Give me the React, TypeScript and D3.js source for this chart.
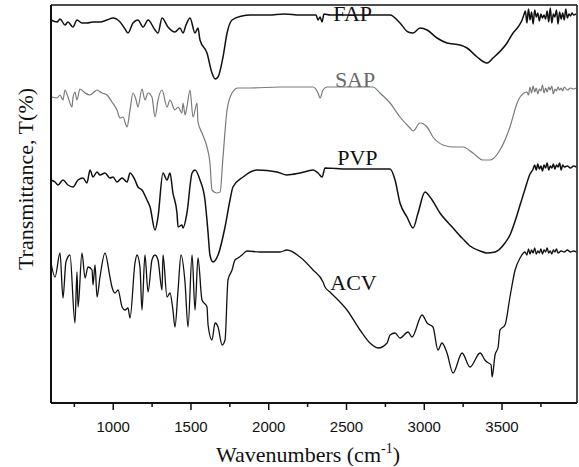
import React from "react";
import * as d3 from "d3";

const xMajorTicks = [1000, 1500, 2000, 2500, 3000, 3500];
const xMinorTicks = [750, 1250, 1750, 2250, 2750, 3250, 3750];
const seriesNames = ["FAP", "SAP", "PVP", "ACV"];

// [wavenumber (cm-1), offset transmittance (a.u.)]
const fap: [number, number][] = [
  [600, 383], [639, 381], [658, 384], [690, 378], [709, 381], [741, 376], [767, 383], [799, 380],
  [831, 380], [870, 381], [915, 381], [960, 383], [999, 385], [1044, 381], [1076, 374], [1095, 370],
  [1127, 380], [1159, 383], [1192, 376], [1224, 383], [1269, 373], [1288, 370], [1314, 385],
  [1352, 376], [1397, 371], [1429, 375], [1449, 370], [1468, 378], [1494, 385], [1526, 370],
  [1545, 375], [1558, 363], [1603, 350], [1635, 330], [1655, 324], [1674, 326], [1706, 346],
  [1732, 370], [1764, 383], [1828, 387], [1880, 388], [2000, 388], [2100, 389], [2201, 388],
  [2304, 388], [2317, 383], [2330, 386], [2343, 381], [2355, 389], [2394, 388], [2600, 388],
  [2780, 388], [2844, 380], [2896, 371], [2928, 370], [2973, 375], [3018, 373], [3082, 365],
  [3146, 360], [3230, 358], [3275, 355], [3340, 346], [3403, 340], [3442, 345], [3532, 360],
  [3571, 370], [3603, 376], [3629, 383], [3640, 388], [3650, 392], [3660, 380], [3670, 394],
  [3680, 383], [3690, 391], [3700, 379], [3710, 393], [3720, 386], [3730, 390], [3740, 382],
  [3750, 389], [3760, 385], [3770, 388], [3780, 384], [3790, 392], [3800, 381], [3810, 395],
  [3820, 380], [3830, 389], [3840, 386], [3850, 393], [3860, 379], [3870, 391], [3880, 384],
  [3890, 390], [3900, 383], [3910, 394], [3920, 385], [3930, 389], [3940, 387], [3950, 390],
  [3960, 388], [3975, 389],
];

const sap: [number, number][] = [
  [606, 306], [639, 305], [658, 308], [677, 303], [690, 313], [709, 306], [735, 296], [741, 305],
  [754, 311], [767, 303], [786, 314], [819, 310], [851, 308], [870, 310], [896, 313], [928, 310],
  [960, 308], [992, 301], [1024, 293], [1044, 285], [1063, 286], [1082, 278], [1089, 276],
  [1108, 293], [1127, 310], [1147, 303], [1159, 296], [1185, 314], [1204, 303], [1224, 310],
  [1249, 306], [1269, 286], [1288, 303], [1314, 313], [1346, 296], [1365, 303], [1397, 293],
  [1417, 296], [1442, 290], [1449, 300], [1462, 288], [1474, 296], [1494, 313], [1513, 286],
  [1539, 300], [1545, 281], [1571, 270], [1603, 256], [1622, 240], [1635, 213], [1667, 210],
  [1687, 211], [1706, 246], [1732, 293], [1764, 310], [1802, 315], [1880, 315], [2072, 316],
  [2285, 316], [2317, 310], [2330, 305], [2349, 313], [2375, 316], [2670, 316], [2715, 310],
  [2780, 300], [2844, 286], [2908, 275], [2928, 272], [2973, 280], [3018, 276], [3056, 266],
  [3121, 258], [3185, 256], [3249, 256], [3313, 250], [3378, 243], [3423, 243], [3487, 253],
  [3551, 276], [3597, 300], [3616, 306], [3661, 311], [3670, 308], [3680, 316], [3690, 310],
  [3700, 317], [3710, 311], [3720, 315], [3730, 309], [3740, 314], [3750, 312], [3760, 318],
  [3770, 310], [3780, 315], [3790, 311], [3800, 316], [3810, 313], [3820, 317], [3830, 309],
  [3840, 314], [3850, 312], [3860, 316], [3870, 313], [3880, 315], [3890, 312], [3900, 316],
  [3920, 313], [3940, 315], [3960, 314], [3978, 315],
];

const pvp: [number, number][] = [
  [600, 223], [626, 221], [645, 218], [677, 223], [709, 218], [741, 216], [774, 223], [806, 225],
  [831, 220], [851, 233], [870, 226], [896, 231], [915, 228], [947, 230], [979, 225], [999, 226],
  [1024, 221], [1057, 225], [1089, 221], [1108, 230], [1140, 223], [1159, 216], [1185, 213],
  [1217, 203], [1237, 196], [1269, 173], [1288, 186], [1320, 230], [1346, 223], [1365, 230],
  [1384, 210], [1410, 190], [1417, 176], [1442, 178], [1449, 175], [1474, 190], [1507, 230],
  [1526, 233], [1558, 223], [1590, 203], [1610, 170], [1622, 148], [1642, 141], [1674, 148],
  [1719, 176], [1751, 203], [1770, 216], [1835, 226], [1925, 233], [2053, 231], [2117, 228],
  [2201, 230], [2285, 233], [2317, 230], [2343, 226], [2362, 235], [2503, 234], [2780, 234],
  [2812, 223], [2844, 200], [2889, 186], [2928, 175], [2960, 190], [3005, 211], [3037, 206],
  [3101, 190], [3185, 175], [3243, 165], [3294, 157], [3359, 152], [3403, 150], [3455, 151],
  [3519, 160], [3551, 168], [3584, 182], [3616, 198], [3648, 214], [3680, 229], [3700, 234],
  [3710, 238], [3720, 233], [3730, 239], [3740, 234], [3750, 237], [3760, 232], [3770, 238],
  [3780, 235], [3790, 240], [3800, 233], [3810, 237], [3820, 235], [3830, 239], [3840, 234],
  [3850, 238], [3860, 236], [3870, 240], [3880, 233], [3890, 238], [3900, 236], [3920, 237],
  [3940, 235], [3960, 237], [3978, 236],
];

const acv: [number, number][] = [
  [600, 140], [626, 126], [658, 150], [677, 105], [696, 141], [722, 148], [754, 80], [767, 131],
  [774, 96], [799, 150], [819, 125], [838, 136], [864, 133], [870, 118], [883, 138], [896, 106],
  [915, 126], [947, 150], [979, 126], [992, 116], [1012, 110], [1031, 113], [1057, 96], [1076, 93],
  [1095, 95], [1108, 85], [1140, 140], [1153, 148], [1172, 136], [1185, 93], [1204, 148],
  [1224, 111], [1249, 143], [1269, 148], [1288, 143], [1314, 113], [1320, 148], [1346, 106],
  [1365, 110], [1384, 93], [1397, 76], [1417, 113], [1436, 148], [1462, 120], [1481, 76],
  [1507, 148], [1526, 93], [1545, 145], [1571, 103], [1603, 96], [1610, 78], [1635, 63],
  [1655, 80], [1674, 76], [1700, 58], [1719, 63], [1738, 123], [1764, 133], [1783, 143],
  [1802, 145], [1828, 148], [1860, 152], [1944, 151], [2072, 151], [2117, 153], [2201, 146],
  [2285, 133], [2349, 121], [2362, 116], [2394, 111], [2503, 93], [2587, 73], [2651, 60],
  [2703, 55], [2761, 60], [2780, 68], [2812, 70], [2844, 65], [2896, 71], [2921, 66], [2986, 88],
  [3018, 80], [3056, 76], [3088, 53], [3114, 60], [3146, 50], [3185, 30], [3243, 50], [3294, 36],
  [3359, 50], [3390, 43], [3403, 41], [3430, 38], [3436, 26], [3455, 48], [3475, 56], [3487, 73],
  [3519, 78], [3551, 106], [3584, 133], [3616, 145], [3648, 151], [3660, 148], [3670, 154],
  [3680, 149], [3690, 153], [3700, 150], [3710, 155], [3720, 149], [3730, 152], [3740, 150],
  [3750, 154], [3760, 149], [3770, 153], [3780, 151], [3790, 155], [3800, 150], [3810, 152],
  [3820, 149], [3830, 153], [3840, 151], [3850, 154], [3860, 150], [3880, 152], [3900, 151],
  [3920, 153], [3940, 151], [3960, 152], [3978, 151],
];

const series = [
  { name: "FAP", data: fap, color: "#111111", width: 1.5 },
  { name: "SAP", data: sap, color: "#7a7a7a", width: 1.2 },
  { name: "PVP", data: pvp, color: "#111111", width: 1.5 },
  { name: "ACV", data: acv, color: "#111111", width: 1.3 },
];

// label anchor positions in data units [wavenumber, value]
const labelPos: [number, number][] = [
  [2540, 382],
  [2555, 316],
  [2570, 238],
  [2545, 113],
];

const W = 579;
const H = 467;
const L = 51, R = 577, T = 5, B = 403;

export default function App() {
  const x = d3.scaleLinear().domain([600, 3982]).range([L, R]);
  const y = d3.scaleLinear().domain([0, 398]).range([B, T]);
  const line = d3
    .line<[number, number]>()
    .x((d) => x(d[0]))
    .y((d) => y(d[1]))
    .curve(d3.curveMonotoneX);

  const serif = "'Liberation Serif', 'Times New Roman', serif";
  const sans = "'Liberation Sans', Arial, sans-serif";

  return (
    <svg
      width={W}
      height={H}
      style={{ position: "absolute", left: 0, top: 0, background: "#fff" }}
    >
      <rect x={0} y={0} width={W} height={H} fill="#fff" />
      {series.map((s) => (
        <path
          key={s.name}
          d={line(s.data) || ""}
          fill="none"
          stroke={s.color}
          strokeWidth={s.width}
          strokeLinejoin="round"
        />
      ))}
      {/* frame */}
      <line x1={L} y1={T} x2={R} y2={T} stroke="#111" strokeWidth={1.5} />
      <line x1={R} y1={T} x2={R} y2={B} stroke="#111" strokeWidth={1.5} />
      <line x1={L} y1={T} x2={L} y2={B} stroke="#111" strokeWidth={2} />
      <line x1={L} y1={B} x2={R} y2={B} stroke="#111" strokeWidth={2} />
      {xMajorTicks.map((t) => (
        <g key={"M" + t}>
          <line x1={x(t)} x2={x(t)} y1={B} y2={B + 7} stroke="#111" strokeWidth={1.5} />
          <text
            x={x(t)}
            y={432}
            textAnchor="middle"
            fontFamily={sans}
            fontSize={15}
            fill="#111"
          >
            {t}
          </text>
        </g>
      ))}
      {xMinorTicks.map((t) => (
        <line key={"m" + t} x1={x(t)} x2={x(t)} y1={B} y2={B + 4} stroke="#111" strokeWidth={1.5} />
      ))}
      {seriesNames.map((n, i) => (
        <text
          key={n}
          x={x(labelPos[i][0])}
          y={y(labelPos[i][1])}
          textAnchor="middle"
          fontFamily={serif}
          fontSize={22}
          fill={i === 1 ? "#6a6a6a" : "#111"}
        >
          {n}
        </text>
      ))}
      <text
        x={308}
        y={462}
        textAnchor="middle"
        fontFamily={serif}
        fontSize={22}
        fill="#111"
      >
        Wavenumbers (cm
        <tspan dy={-9} fontSize={14}>-1</tspan>
        <tspan dy={9}>)</tspan>
      </text>
      <text
        transform="translate(33,179) rotate(-90)"
        textAnchor="middle"
        fontFamily={serif}
        fontSize={22}
        fill="#111"
      >
        Transmittance, T(%)
      </text>
    </svg>
  );
}
